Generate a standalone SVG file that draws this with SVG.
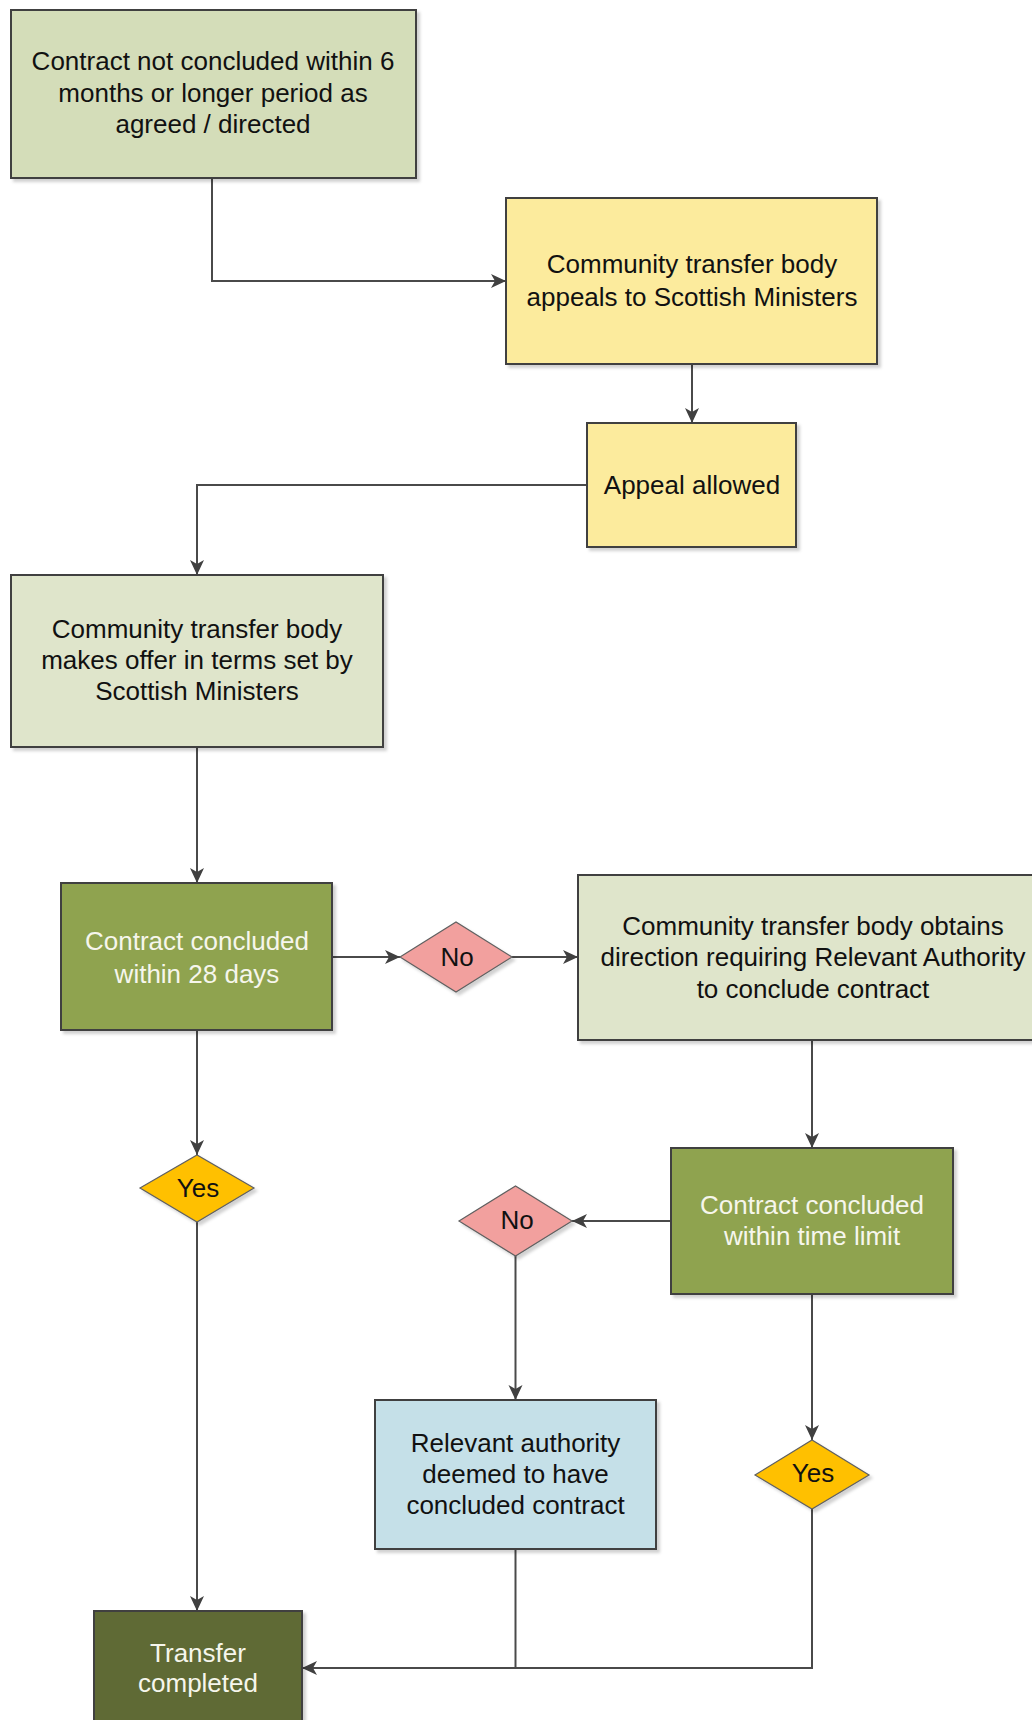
<svg xmlns="http://www.w3.org/2000/svg" width="1032" height="1720" viewBox="0 0 1032 1720">
<defs>
  <filter id="sh" x="-10%" y="-10%" width="125%" height="125%">
    <feDropShadow dx="3" dy="3" stdDeviation="1.5" flood-color="#000" flood-opacity="0.18"/>
  </filter>
  <marker id="arr" markerUnits="userSpaceOnUse" markerWidth="16" markerHeight="16" viewBox="0 0 16 16" refX="15" refY="8" orient="auto">
    <path d="M0,1 L15,8 L0,15 L4,8 Z" fill="#404040"/>
  </marker>
</defs>
<style>
  .box { stroke: #404040; stroke-width: 2; filter: url(#sh); }
  .dia { stroke: #606060; stroke-width: 1.2; filter: url(#sh); }
  .t { font-family: "Liberation Sans", Arial, sans-serif; font-size: 26px; text-anchor: middle; fill: #111; }
  .w { fill: #F6F6EC; }
  .c { fill: none; stroke: #4a4a4a; stroke-width: 2; }
  .a { marker-end: url(#arr); }
</style>
<rect width="1032" height="1720" fill="#fff"/>

<g id="connectors">
  <path class="c a" d="M212,178 V281 H506"/>
  <path class="c a" d="M692,364 V423"/>
  <path class="c a" d="M587,485 H197 V575"/>
  <path class="c a" d="M197,747 V883"/>
  <path class="c a" d="M332,957 H400"/>
  <path class="c a" d="M512,957 H578"/>
  <path class="c a" d="M812,1040 V1148"/>
  <path class="c a" d="M671,1221 H572"/>
  <path class="c a" d="M515.5,1256 V1400"/>
  <path class="c a" d="M812,1294 V1440"/>
  <path class="c a" d="M197,1030 V1155"/>
  <path class="c a" d="M197,1222 V1611"/>
  <path class="c" d="M515.5,1549 V1668"/>
  <path class="c a" d="M812,1509 V1668 H302"/>
</g>

<g id="n1">
  <rect class="box" x="11" y="10" width="405" height="168" fill="#D4DDB9"/>
  <text class="t" x="213" y="70">Contract not concluded within 6</text>
  <text class="t" x="213" y="102">months or longer period as</text>
  <text class="t" x="213" y="133">agreed / directed</text>
</g>

<g id="n2">
  <rect class="box" x="506" y="198" width="371" height="166" fill="#FCEB9D"/>
  <text class="t" x="692" y="273">Community transfer body</text>
  <text class="t" x="692" y="306">appeals to Scottish Ministers</text>
</g>

<g id="n3">
  <rect class="box" x="587" y="423" width="209" height="124" fill="#FCEB9D"/>
  <text class="t" x="692" y="494">Appeal allowed</text>
</g>

<g id="n4">
  <rect class="box" x="11" y="575" width="372" height="172" fill="#DFE5CB"/>
  <text class="t" x="197" y="638">Community transfer body</text>
  <text class="t" x="197" y="669">makes offer in terms set by</text>
  <text class="t" x="197" y="700">Scottish Ministers</text>
</g>

<g id="n5">
  <rect class="box" x="61" y="883" width="271" height="147" fill="#8FA34F"/>
  <text class="t w" x="197" y="950">Contract concluded</text>
  <text class="t w" x="197" y="983">within 28 days</text>
</g>

<g id="d1">
  <polygon class="dia" points="400,957 456,922 512,957 456,992" fill="#F2A09E"/>
  <text class="t" x="457" y="966">No</text>
</g>

<g id="n6">
  <rect class="box" x="578" y="875" width="470" height="165" fill="#DFE5CB"/>
  <text class="t" x="813" y="935">Community transfer body obtains</text>
  <text class="t" x="813" y="966">direction requiring Relevant Authority</text>
  <text class="t" x="813" y="998">to conclude contract</text>
</g>

<g id="n7">
  <rect class="box" x="671" y="1148" width="282" height="146" fill="#8FA34F"/>
  <text class="t w" x="812" y="1214">Contract concluded</text>
  <text class="t w" x="812" y="1245">within time limit</text>
</g>

<g id="d2">
  <polygon class="dia" points="459,1221 515.5,1186 572,1221 515.5,1256" fill="#F2A09E"/>
  <text class="t" x="517" y="1229">No</text>
</g>

<g id="d3">
  <polygon class="dia" points="140,1188 197,1155 254,1188 197,1222" fill="#FFC000"/>
  <text class="t" x="198" y="1197">Yes</text>
</g>

<g id="n8">
  <rect class="box" x="375" y="1400" width="281" height="149" fill="#C5E0E8"/>
  <text class="t" x="515.5" y="1452">Relevant authority</text>
  <text class="t" x="515.5" y="1483">deemed to have</text>
  <text class="t" x="515.5" y="1514">concluded contract</text>
</g>

<g id="d4">
  <polygon class="dia" points="755,1475 812,1440 869,1475 812,1509" fill="#FFC000"/>
  <text class="t" x="813" y="1482">Yes</text>
</g>

<g id="n9">
  <rect class="box" x="94" y="1611" width="208" height="130" fill="#5F6B35"/>
  <text class="t w" x="198" y="1662">Transfer</text>
  <text class="t w" x="198" y="1692">completed</text>
</g>
</svg>
